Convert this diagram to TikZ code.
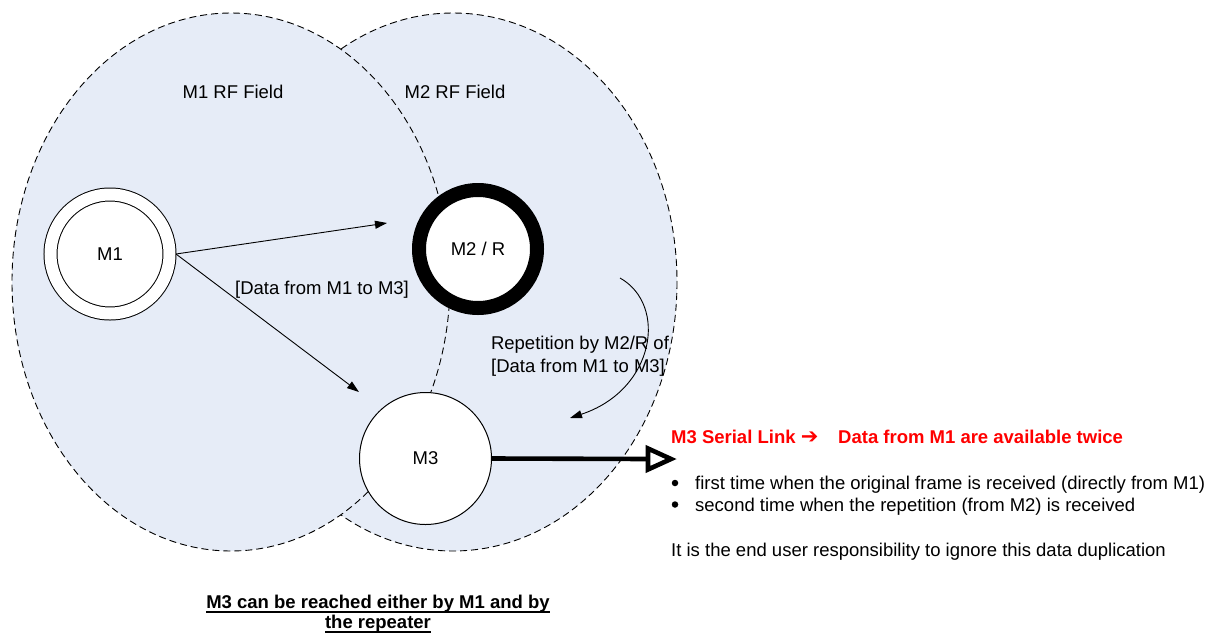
\documentclass[tikz,border=0pt]{standalone}
\usepackage{fontspec}
\setmainfont{Liberation Sans}
\newfontfamily\symfont{DejaVu Sans}
\usetikzlibrary{arrows.meta}
\definecolor{fieldfill}{RGB}{230,236,247}
\definecolor{linkred}{RGB}{255,0,0}
\newsavebox{\myulbox}
\newcommand{\myul}[1]{\sbox{\myulbox}{#1}\rlap{\rule[-4.6pt]{\wd\myulbox}{1.6pt}}\usebox{\myulbox}}
\begin{document}
\begin{tikzpicture}[x=1pt,y=-1pt,
  field/.style={fill=fieldfill, draw=black, line width=0.9pt, dash pattern=on 7pt off 4pt},
  txt/.style={inner sep=0pt, font=\fontsize{18.5}{22}\selectfont},
  station/.style={circle, draw=black, fill=white, inner sep=0pt, font=\fontsize{18.5}{22}\selectfont},
  arr/.style={line width=0.9pt, -{Triangle[length=12pt,width=8pt]}},
  bulletdot/.style={circle, fill=black, inner sep=0pt, minimum size=6.5pt},
  serial/.style={line width=4.6pt, line join=miter, miter limit=10}
]
\useasboundingbox (0,0) rectangle (1216,635);
\fill[white] (0,0) rectangle (1216,635);
% RF fields
\draw[field] (453,282) ellipse [x radius=224, y radius=269];
\draw[field] (231,282) ellipse [x radius=219, y radius=269];
\node[txt, anchor=base] (f1) at (233,98) {M1 RF Field};
\node[txt, anchor=base] (f2) at (455,98) {M2 RF Field};
% stations
\node[station, line width=1pt, double=white, double distance=12pt, minimum size=119pt, outer sep=6.5pt] (m1) at (110,254) {M1};
\node[station, line width=14pt, minimum size=118pt] (m2) at (478,249) {M2 / R};
\node[station, line width=1pt, minimum size=132pt] (m3) at (425.5,458.5) {M3};
% connectors
\coordinate (t1) at (387,223);
\coordinate (t2) at (359,392);
\draw[arr] (m1.east) -- (t1);
\draw[arr] (m1.east) -- (t2);
\node[txt, anchor=base] (d1) at (322,294) {[Data from M1 to M3]};
\coordinate (c0) at (620,278);
\coordinate (c1) at (570,418);
\draw[arr] (c0) .. controls (668,305) and (655,390) .. (c1);
\node[txt, anchor=base] (rep1) at (580,349) {Repetition by M2/R of};
\node[txt, anchor=base] (rep2) at (578,372) {[Data from M1 to M3]};
\coordinate (t3) at (648,459);
\draw[serial] (m3.east) -- (t3);
\draw[serial, fill=white] (648,448.5) -- (671,459) -- (648,469.5) -- cycle;
% serial link text
\node[txt, anchor=base west, text=linkred, font=\fontsize{18.5}{22}\selectfont\bfseries] (red1) at (671,443) {M3 Serial Link {\symfont\bfseries\fontsize{21}{22}\selectfont ➔}};
\node[txt, anchor=base west, text=linkred, font=\fontsize{18.5}{22}\selectfont\bfseries] (red2) at (838,443) {Data from M1 are available twice};
\node[bulletdot] (b1) at (675,483) {};
\node[txt, anchor=base west] (l1) at (695,489) {first time when the original frame is received (directly from M1)};
\node[bulletdot] (b2) at (675,504.5) {};
\node[txt, anchor=base west] (l2) at (695,511) {second time when the repetition (from M2) is received};
\node[txt, anchor=base west] (l3) at (671,556) {It is the end user responsibility to ignore this data duplication};
% caption
\node[txt, anchor=base, font=\fontsize{18.5}{22}\selectfont\bfseries] (cap1) at (378,608) {\myul{M3 can be reached either by M1 and by}};
\node[txt, anchor=base, font=\fontsize{18.5}{22}\selectfont\bfseries] (cap2) at (378,628) {\myul{the repeater}};
\end{tikzpicture}
\end{document}
